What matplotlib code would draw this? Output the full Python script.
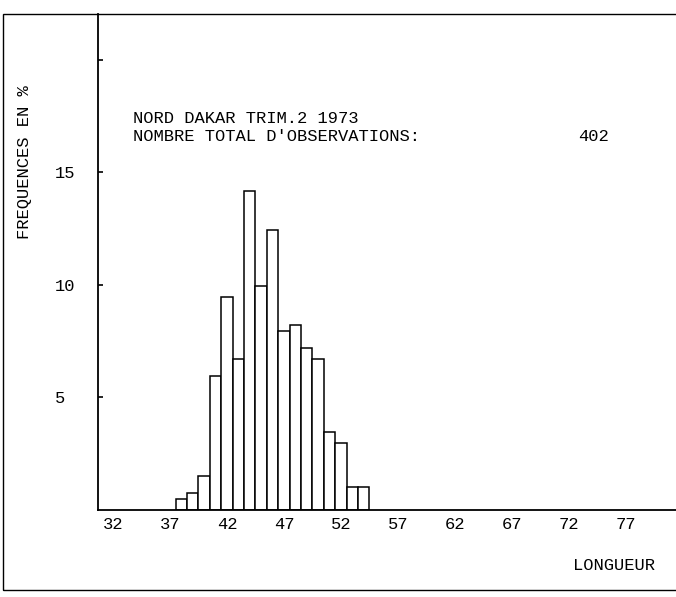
import matplotlib
matplotlib.use("Agg")
import matplotlib.pyplot as plt
from matplotlib.patches import Rectangle

plt.rcParams['font.family'] = ['Liberation Mono', 'DejaVu Sans']

# ---- data ----
lengths = [38, 39, 40, 41, 42, 43, 44, 45, 46, 47, 48, 49, 50, 51, 52, 53, 54]
freq_pct = [0.50, 0.75, 1.49, 5.97, 9.45, 6.72, 14.18, 9.95, 12.44,
            7.96, 8.21, 7.21, 6.72, 3.48, 2.99, 1.00, 1.00]
x_ticks = [32, 37, 42, 47, 52, 57, 62, 67, 72, 77]
x_tick_labels = ['32', '37', '42', '47', '52', '57', '62', '67', '72', '77']
y_ticks = [5, 10, 15, 20]
y_tick_labels = ['5', '10', '15', '']
title_line1 = 'NORD DAKAR TRIM.2 1973'
title_line2 = "NOMBRE TOTAL D'OBSERVATIONS:"
total_obs = '402'
x_label = 'LONGUEUR'
y_label = 'FREQUENCES EN %'

W, H = 676, 597
fig = plt.figure(figsize=(W / 100, H / 100), dpi=100)
fig.patch.set_facecolor('white')

# outer frame
fig.add_artist(Rectangle((3 / W, 1 - 590 / H), 1.2, (590 - 14) / H,
                         transform=fig.transFigure, fill=False,
                         edgecolor='black', linewidth=1.0))

ax = fig.add_axes([98 / W, 1 - 510 / H, (W - 98) / W, (510 - 14) / H])
ax.bar(lengths, freq_pct, width=1.0, facecolor='white', edgecolor='black',
       linewidth=1.1)

ax.set_xlim(30.68, 81.42)
ax.set_ylim(0, 22.04)

for s in ['top', 'right']:
    ax.spines[s].set_visible(False)
for s in ['left', 'bottom']:
    ax.spines[s].set_linewidth(1.3)

fs = 12.3
ax.set_xticks(x_ticks)
ax.set_xticklabels(x_tick_labels)
ax.tick_params(axis='x', length=0, pad=5, labelsize=fs)
ax.set_yticks(y_ticks)
ax.set_yticklabels(y_tick_labels)
ax.tick_params(axis='y', direction='in', length=3.5, width=1.2, pad=31,
               labelsize=fs)
for lab in ax.get_yticklabels():
    lab.set_horizontalalignment('left')

ax.set_ylabel(y_label, fontsize=fs, va='center')
ax.yaxis.set_label_coords(-(98 - 25) / (W - 98), (510 - 162) / 496)
ax.set_xlabel(x_label, fontsize=fs, va='center')
ax.xaxis.set_label_coords((614 - 98) / (W - 98), -(566 - 510) / 496)

ax.text(33.75, 17.4, title_line1, fontsize=fs, ha='left', va='center')
ax.text(33.75, 16.6, title_line2, fontsize=fs, ha='left', va='center')
ax.text(72.8, 16.6, total_obs, fontsize=fs, ha='left', va='center')

fig.savefig('out.png', dpi=100)
